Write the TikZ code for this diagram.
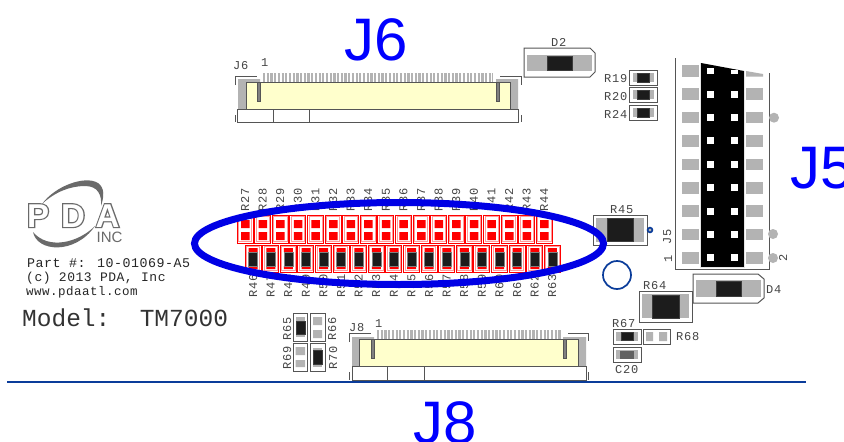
\documentclass[tikz,border=0pt]{standalone}
\usepackage{fontspec}
\setmainfont{Liberation Sans}
\newfontfamily\pcb{Liberation Mono}[LetterSpace=6]
\newfontfamily\pcbwide{Liberation Mono}[LetterSpace=4]
\newfontfamily\pcbmodel{Liberation Mono}
\newfontfamily\logoout{Liberation Sans Bold}[FakeBold=7]
\newfontfamily\logoin{Liberation Sans Bold}
\definecolor{pad}{HTML}{B3B3B3}
\definecolor{ink}{HTML}{1C1C1C}
\definecolor{edge}{HTML}{555555}
\definecolor{txt}{HTML}{444444}
\definecolor{ringblue}{HTML}{0A3C9A}
\definecolor{cream}{HTML}{FFFFCC}
\definecolor{swoosh}{HTML}{6A6A6A}
\definecolor{redpale}{HTML}{FF9A9A}
\tikzset{
  lbl/.style={font=\pcb\fontsize{12}{12}\selectfont, text=txt, inner sep=0pt, anchor=base west},
  lblv/.style={lbl, rotate=90},
  big/.style={font=\fontsize{60}{60}\selectfont, text=blue, inner sep=0pt, anchor=base west},
  outline/.style={draw=edge, line width=1pt},
  inkfill/.style={fill=ink, draw=edge!70!black, line width=.6pt},
  comb/.style={draw=pad, line width=9pt, dash pattern=on 2.2pt off 1.5pt},
  bracket/.style={draw=edge, line width=.9pt},
  slot/.style={fill=gray, draw=edge, line width=.8pt},
  logoo/.style={font=\logoout\fontsize{33}{33}\selectfont, text=swoosh, inner sep=0pt, anchor=base west},
  logoi/.style={font=\logoin\fontsize{33}{33}\selectfont, text=white, inner sep=0pt, anchor=base west},
  pcbtext/.style={text=black!85, inner sep=0pt, anchor=base west},
}
\newcommand{\boxpart}[4]{\draw[outline,fill=white] (#1,#2) rectangle (#3,#4);}
\begin{document}
\begin{tikzpicture}[x=1pt,y=-1pt]
\useasboundingbox (0,0) rectangle (844,442);
\fill[white] (0,0) rectangle (844,442);

% Logo
\fill[swoosh] (42,204) .. controls (55,186) and (85,175) .. (98,183) .. controls (105,188) and (104,197) .. (101,206) .. controls (102,195) and (98,186) .. (85,186) .. controls (70,186) and (55,192) .. (42,204) -- cycle;
\fill[swoosh] (33,232) .. controls (37,252) and (75,255) .. (95,226) .. controls (78,243) and (48,250) .. (33,232) -- cycle;
\foreach \nm/\t/\lx in {p/P/27,d/D/61,a/A/95.5}{
  \node[logoo] (logoo\nm) at (\lx,227) {\t};
  \node[logoi] (logoi\nm) at (\lx,227) {\t};
}
\node[font=\fontsize{15}{15}\selectfont, text=swoosh, inner sep=0pt, anchor=base west] (inc) at (96.5,242.5) {INC};

% Part text
\node[pcbtext,font=\pcbwide\fontsize{13.3}{14}\selectfont] (t1) at (27,267) {Part \#: 10-01069-A5};
\node[pcbtext,font=\pcbwide\fontsize{13}{14}\selectfont] (t2) at (26,281) {(c) 2013 PDA, Inc};
\node[pcbtext,font=\pcbwide\fontsize{12.5}{14}\selectfont] (t3) at (26,295) {www.pdaatl.com};
\node[font=\pcbmodel\fontsize{24.5}{24.5}\selectfont, text=black!80, inner sep=0pt, anchor=base west] (model) at (22,326) {Model:\ \ TM7000};

% Big labels
\node[big] (bigj6) at (344,60) {J6};
\node[big] (bigj5) at (790,188) {J5};
\node[big] (bigj8) at (413,443) {J8};

% J6 connector
\node[lbl] (lj6) at (233,69) {J6};
\node[lbl] (lj61) at (261,66) {1};
\draw[comb] (263,77.5) -- (493,77.5);
\fill[pad] (238,79) rectangle (246,109) (238,79) rectangle (260,83);
\fill[pad] (510,79) rectangle (518,109) (496,79) rectangle (518,83);
\draw[outline,fill=cream] (246,82) rectangle (510,109);
\draw[slot] (257,82) rectangle (260,101);
\draw[slot] (496,82) rectangle (499,101);
\draw[outline,fill=white] (237,109) rectangle (518,122);
\draw[outline] (273,109) -- (273,122) (309,109) -- (309,122);
\draw[bracket] (235,85) -- (235,76) -- (257,76) (500,76) -- (521,76) -- (521,85)
  (235,115) -- (235,122) (521,115) -- (521,122);

% J8 connector
\node[lbl] (lj8) at (349,331) {J8};
\node[lbl] (lj81) at (375,327) {1};
\draw[comb] (377,334.5) -- (561,334.5);
\fill[pad] (352,337) rectangle (359,366) (352,337) rectangle (374,341);
\fill[pad] (579,337) rectangle (586,366) (563,337) rectangle (586,341);
\draw[outline,fill=cream] (359,339) rectangle (578,366);
\draw[slot] (371,339) rectangle (374,358);
\draw[slot] (563,339) rectangle (566,358);
\draw[outline,fill=white] (352,366) rectangle (586,380);
\draw[outline] (387,366) -- (387,380) (424,366) -- (424,380);
\draw[bracket] (349,342) -- (349,333) -- (371,333) (568,333) -- (588,333) -- (588,341)
  (349,372) -- (349,380) (588,372) -- (588,380);

% D2
\node[lbl] (ld2) at (551,46) {D2};
\draw[outline,fill=white] (524,48) -- (590,48) -- (595,53) -- (595,72) -- (590,77) -- (524,77) -- cycle;
\fill[pad] (527,55) rectangle (592,71);
\draw[inkfill] (547,56) rectangle (572,70);

% D4
\node[lbl] (ld4) at (766,293) {D4};
\draw[outline,fill=white] (693,274) -- (758,274) -- (764,279) -- (764,298) -- (758,303) -- (693,303) -- cycle;
\fill[pad] (696,280) rectangle (761,297);
\draw[inkfill] (716,281) rectangle (741,296);

% R19 R20 R24
\foreach \nm/\yt/\ty in {19/70/82,20/87/100,24/105/118}{
  \node[lbl] (lr\nm) at (604,\ty) {R\nm};
  \pgfmathsetmacro{\yb}{\yt+15}
  \pgfmathsetmacro{\ypa}{\yt+3}
  \pgfmathsetmacro{\ypb}{\yt+12}
  \boxpart{629}{\yt}{657}{\yb}
  \fill[pad] (633,\ypa) rectangle (654,\ypb);
  \draw[inkfill] (637,\ypa) rectangle (649,\ypb);
}

% J5
\draw[outline] (675,58) -- (675,269) -- (769,269) -- (769,73);
\foreach \i in {0,...,8}{
  \pgfmathsetmacro{\yc}{70.7+23.4*\i}
  \fill[pad] (682,\yc-5.8) rectangle (699,\yc+5.8);
  \ifnum\i>0 \fill[pad] (746,\yc-5.8) rectangle (763,\yc+5.8);\fi
}
\fill[pad] (746,71) -- (763,74) -- (763,76.5) -- (746,76.5) -- cycle;
\fill[black] (701,63) -- (744,71) -- (744,267) -- (701,267) -- cycle;
\draw[white!90!black, line width=.8pt] (700.5,63) -- (700.5,267.5) -- (744.5,267.5) -- (744.5,71);
\foreach \i in {1,...,8}{
  \pgfmathsetmacro{\yc}{70.7+23.4*\i}
  \fill[white] (707.2,\yc-3.5) rectangle (714.2,\yc+3.5);
  \fill[white] (730.5,\yc-3.5) rectangle (737.5,\yc+3.5);
}
\fill[white] (707.2,67.7) rectangle (714.2,74.2);
\fill[white] (730.5,69.5) rectangle (737.5,74.2);
\fill[pad] (774,117.7) circle (5) (773,234) circle (5) (773,258) circle (5);
\node[lblv] (lj5) at (671,245) {J5};
\node[lblv] (lj51) at (672,263) {1};
\node[lblv] (lj52) at (787,262) {2};

% Red resistors top row R27..R44
\foreach \i in {0,...,17}{
  \pgfmathsetmacro{\xl}{237+17.6*\i}
  \pgfmathtruncatemacro{\rn}{27+\i}
  \node[lblv] (lt\rn) at (\xl+12,212) {R\rn};
  \draw[red, line width=.9pt] (\xl,215) rectangle (\xl+16,243);
  \draw[redpale, line width=.6pt] (\xl+1.4,216.4) rectangle (\xl+14.6,241.6);
  \fill[red] (\xl+4,220) rectangle (\xl+12.5,228) (\xl+4,232) rectangle (\xl+12.5,240);
}
% Red resistors bottom row R46..R63
\foreach \i in {0,...,17}{
  \pgfmathsetmacro{\xl}{245+17.6*\i}
  \pgfmathtruncatemacro{\rn}{46+\i}
  \node[lblv] (lb\rn) at (\xl+12,298) {R\rn};
  \draw[red, line width=.9pt] (\xl,245) rectangle (\xl+16,272);
  \draw[redpale, line width=.6pt] (\xl+1.4,246.4) rectangle (\xl+14.6,270.6);
  \fill[red] (\xl+3.7,248) rectangle (\xl+12.7,252) (\xl+3.7,266) rectangle (\xl+12.7,269);
  \fill[ink] (\xl+3.7,252) rectangle (\xl+12.7,266);
  \draw[gray, line width=.7pt] (\xl+3.7,252) rectangle (\xl+12.7,266);
}

% R45
\node[lbl] (lr45) at (610,213) {R45};
\boxpart{593}{215}{647}{245}
\fill[pad] (596,218) rectangle (644,242);
\draw[inkfill] (607,218.5) rectangle (633,241.5);
\draw[ringblue, fill=pad, line width=1.6pt] (650,230) circle (2.4);

% Blue ring
\draw[ringblue, line width=1.7pt] (617,275) circle (14);

% R64
\node[lbl] (lr64) at (643,289) {R64};
\boxpart{639}{291}{692}{322}
\fill[pad] (642,294) rectangle (689,318);
\draw[inkfill] (652,295) rectangle (679,318);

% R67
\node[lbl] (lr67) at (612,327) {R67};
\boxpart{613}{329}{641}{344}
\fill[pad] (616,332) rectangle (638,341);
\draw[inkfill] (621,332.5) rectangle (633,340.5);

% R68
\node[lbl] (lr68) at (676,340) {R68};
\boxpart{643}{329}{670}{344}
\fill[pad] (646,332) rectangle (653,341) (659,332) rectangle (667,341);

% C20
\node[lbl] (lc20) at (615,373) {C20};
\boxpart{613}{347}{641}{362}
\fill[pad] (616,350) rectangle (638,359);
\fill[black!62] (620,350.5) rectangle (634,358.5);

% R65 R66 R69 R70
\node[lblv] (lr65) at (291,341) {R65};
\node[lblv] (lr69) at (291,370) {R69};
\node[lblv] (lr66) at (336,341) {R66};
\node[lblv] (lr70) at (337,370) {R70};
\boxpart{293}{313}{307}{341}
\fill[pad] (296,317) rectangle (305,337);
\draw[inkfill] (296,321) rectangle (305,334);
\boxpart{310}{313}{325}{341}
\fill[pad] (313,317) rectangle (322,325) (313,330) rectangle (322,338);
\boxpart{293}{343}{307}{371}
\fill[pad] (295.5,347) rectangle (305,355) (295.5,360) rectangle (305,367);
\boxpart{310}{343}{325}{371}
\fill[pad] (313,347.5) rectangle (322,367);
\draw[inkfill] (313,350) rectangle (322,364);

% Bottom line
\draw[ringblue, line width=2pt] (7,382) -- (806,382);

% Ellipse
\draw[blue!90!black, line width=7pt] (399,243.5) ellipse (204.5 and 41);
\end{tikzpicture}
\end{document}
